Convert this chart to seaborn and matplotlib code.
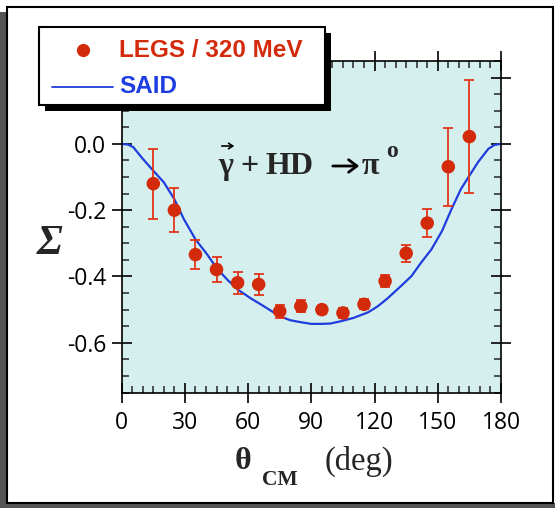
import numpy as np
import pandas as pd
import matplotlib
matplotlib.use("Agg")
import matplotlib.pyplot as plt
from matplotlib.patches import Rectangle, FancyArrowPatch
from matplotlib.lines import Line2D
from matplotlib.ticker import MultipleLocator, FixedLocator
import seaborn as sns

# ---------------- data ----------------
theta_legs = [15, 25, 35, 45, 55, 65, 75, 85, 95, 105, 115, 125, 135, 145, 155, 165]
sigma_legs = [-0.120, -0.200, -0.334, -0.379, -0.419, -0.424, -0.505, -0.490,
              -0.500, -0.510, -0.484, -0.414, -0.330, -0.239, -0.069, 0.022]
err_legs = [0.106, 0.066, 0.043, 0.038, 0.034, 0.032, 0.020, 0.018,
            0.012, 0.014, 0.015, 0.017, 0.025, 0.043, 0.118, 0.170]

theta_said = [0, 3, 5.5, 10, 15, 20, 25, 29.5, 35, 40.5, 45, 50, 55, 61, 67.5,
              75, 80, 85, 90, 95, 99, 104, 110, 117, 121.5, 126, 132.5, 137.5,
              142, 147, 152, 156.5, 161, 164.5, 169, 174, 177, 180]
sigma_said = [0.000, -0.002, -0.010, -0.045, -0.081, -0.116, -0.167, -0.227,
              -0.288, -0.333, -0.374, -0.409, -0.439, -0.465, -0.490, -0.520,
              -0.532, -0.538, -0.543, -0.543, -0.542, -0.535, -0.525, -0.508,
              -0.490, -0.467, -0.429, -0.399, -0.359, -0.318, -0.263, -0.197,
              -0.136, -0.101, -0.056, -0.015, -0.003, 0.000]

x_ticks = [0, 30, 60, 90, 120, 150, 180]
y_ticks = [-0.6, -0.4, -0.2, 0.0, 0.2]
y_tick_labels = ["-0.6", "-0.4", "-0.2", "0.0", "0.2"]
legend_labels = ["LEGS / 320 MeV", "SAID"]

# ---------------- style ----------------
RED = "#d42a0c"
RED_ERR = "#e2351a"
BLUE = "#1f3ddc"
BG = "#d5efee"

sns.set_theme(style="ticks")
plt.rcParams["font.family"] = ["Open Sans", "DejaVu Sans"]

W, H = 555, 508
fig = plt.figure(figsize=(W / 100, H / 100), dpi=100)
fig.patch.set_facecolor("white")


def fx(px):
    return px / W


def fy(py):
    return 1 - py / H


ax_l, ax_r, ax_t, ax_b = 121.7, 501.0, 61.0, 392.5
ax = fig.add_axes([fx(ax_l), fy(ax_b), (ax_r - ax_l) / W, (ax_b - ax_t) / H])
ax.set_facecolor(BG)

df_said = pd.DataFrame({"theta": theta_said, "sigma": sigma_said})
df_legs = pd.DataFrame({"theta": theta_legs, "sigma": sigma_legs, "err": err_legs})

sns.lineplot(data=df_said, x="theta", y="sigma", ax=ax, color=BLUE, lw=1.6,
             sort=False, estimator=None, zorder=2)
ax.errorbar(df_legs["theta"], df_legs["sigma"], yerr=df_legs["err"], fmt="none",
            ecolor=RED_ERR, elinewidth=1.3, capsize=3.3, capthick=1.3, zorder=3)
sns.scatterplot(data=df_legs, x="theta", y="sigma", ax=ax, color=RED, s=95,
                edgecolor="none", linewidth=0, zorder=4)

ax.set_xlim(0, 180)
ax.set_ylim(-0.75, 0.25)
ax.xaxis.set_major_locator(FixedLocator(x_ticks))
ax.xaxis.set_minor_locator(MultipleLocator(5))
ax.yaxis.set_major_locator(FixedLocator(y_ticks))
ax.set_yticklabels(y_tick_labels)
ax.yaxis.set_minor_locator(MultipleLocator(0.05))
ax.set_xlabel("")
ax.set_ylabel("")

for s in ax.spines.values():
    s.set_visible(True)
    s.set_linewidth(1.2)
    s.set_color("black")

ax.tick_params(which="major", direction="inout", length=15, width=1.2,
               top=True, right=True, labelsize=16.5, colors="black", pad=3.5)
ax.tick_params(which="minor", direction="in", length=5, width=1.1,
               top=True, right=True, bottom=True, left=True)
ax.tick_params(axis="x", which="major", pad=6)
ax.grid(False)

# ---------------- labels ----------------
SERIF = "Liberation Serif"
fig.text(fx(50), fy(244), "Σ", family=SERIF, weight="bold",
         style="italic", fontsize=30, ha="center", va="center")

fig.text(fx(235), fy(469), "θ", family=SERIF, weight="bold",
         fontsize=23, ha="left", va="baseline")
fig.text(fx(262), fy(485), "CM", family=SERIF, weight="bold",
         fontsize=15.5, ha="left", va="baseline")
fig.text(fx(325), fy(470), "(deg)", family=SERIF,
         fontsize=23.5, ha="left", va="baseline")

# reaction annotation
ann_kw = dict(family=SERIF, weight="bold", fontsize=23, ha="left", va="baseline")
fig.text(fx(218), fy(174), "γ", **ann_kw)
fig.text(fx(240), fy(174), "+", **ann_kw)
fig.text(fx(265), fy(174), "HD", **ann_kw)
fig.text(fx(362), fy(174), "π", **ann_kw)
fig.text(fx(386), fy(157), "o", family=SERIF, weight="bold", fontsize=17,
         ha="left", va="baseline")
fig.patches.append(FancyArrowPatch((fx(219), fy(146)), (fx(237), fy(146)),
                                   transform=fig.transFigure,
                                   arrowstyle="->,head_length=3,head_width=2",
                                   lw=1.2, color="black", mutation_scale=1, zorder=10))
fig.patches.append(FancyArrowPatch((fx(330), fy(166)), (fx(362), fy(166)),
                                   transform=fig.transFigure,
                                   arrowstyle="->,head_length=6,head_width=4.5",
                                   lw=2.0, color="black", mutation_scale=1, zorder=10))

# ---------------- legend box ----------------
lx0, lx1, ly0, ly1 = 39, 325, 27, 105
fig.patches.append(Rectangle((fx(lx0 + 6), fy(ly1 + 6)), (lx1 - lx0) / W, (ly1 - ly0) / H,
                             transform=fig.transFigure, facecolor="black",
                             edgecolor="none", zorder=20))
fig.patches.append(Rectangle((fx(lx0), fy(ly1)), (lx1 - lx0) / W, (ly1 - ly0) / H,
                             transform=fig.transFigure, facecolor="white",
                             edgecolor="black", lw=1.5, zorder=21))
fig.lines.append(Line2D([fx(83)], [fy(50)], transform=fig.transFigure, marker="o",
                        markersize=9.5, color=RED, markeredgewidth=0, ls="none", zorder=22))
fig.lines.append(Line2D([fx(52), fx(113)], [fy(87), fy(87)], transform=fig.transFigure,
                        color=BLUE, lw=1.3, zorder=22))
fig.text(fx(119), fy(57), legend_labels[0], family="Liberation Sans", weight="bold",
         fontsize=17.5, color=RED, ha="left", va="baseline", zorder=23)
fig.text(fx(119), fy(93), legend_labels[1], family="Liberation Sans", weight="bold",
         fontsize=17.5, color="#1d3de0", ha="left", va="baseline", zorder=23)

# ---------------- outer frame ----------------
fig.patches.append(Rectangle((0, fy(508)), fx(7), (508 - 12) / H,
                             transform=fig.transFigure, facecolor="#555555",
                             edgecolor="none", zorder=5))
fig.patches.append(Rectangle((0, 0), 1, 5 / H, transform=fig.transFigure,
                             facecolor="#555555", edgecolor="none", zorder=5))
fig.patches.append(Rectangle((fx(7), fy(503)), (553 - 7) / W, (503 - 7) / H,
                             transform=fig.transFigure, facecolor="none",
                             edgecolor="black", lw=1.5, zorder=6))

fig.savefig("out.png", dpi=100)
